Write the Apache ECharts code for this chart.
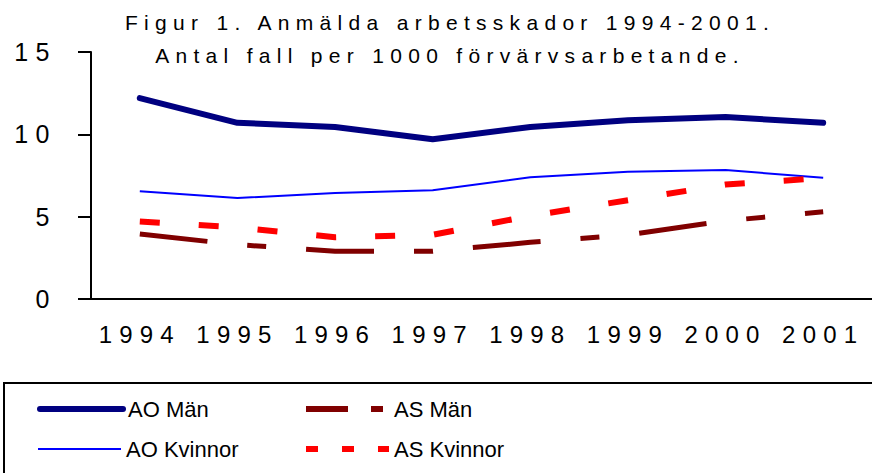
<!DOCTYPE html>
<html>
<head>
<meta charset="utf-8">
<script src="https://cdn.jsdelivr.net/npm/echarts@6/dist/echarts.min.js"></script>
<style>
  html, body { margin: 0; padding: 0; background: #fff; }
  #main { width: 872px; height: 473px; }
  /* the original uses very wide letter spacing */
  #main text { letter-spacing: 0.3em; }
  #main text[style*="lgd"], #main text[font-family*="lgd"] { letter-spacing: 0; }
</style>
</head>
<body>
<div id="main"></div>
<script>
  var years = ['1994', '1995', '1996', '1997', '1998', '1999', '2000', '2001'];
  var aoMan = [12.2, 10.7, 10.45, 9.7, 10.45, 10.85, 11.05, 10.7];
  var aoKvinnor = [6.55, 6.13, 6.43, 6.6, 7.39, 7.73, 7.83, 7.37];
  var asMan = [3.95, 3.3, 2.9, 2.9, 3.44, 3.9, 4.75, 5.3];
  var asKvinnor = [4.7, 4.35, 3.75, 3.9, 5.05, 6.0, 6.95, 7.35];
  var yTicks = [0, 5, 10, 15];

  var font = 'Liberation Sans, Arial, sans-serif';
  var lgdFont = 'Liberation Sans, lgd';

  // one legend per item so the two columns line up
  function legendItem(name, left, top, lineStyle) {
    return {
      left: left, top: top, padding: 0, itemWidth: 83, itemHeight: 14,
      data: [{ name: name, lineStyle: lineStyle }],
      itemStyle: { opacity: 0 },
      textStyle: { fontFamily: lgdFont, fontSize: 22, color: '#000', padding: [2, 0, 0, 0] }
    };
  }

  var chart = echarts.init(document.getElementById('main'), null, { renderer: 'svg' });
  var option = {
    animation: false,
    backgroundColor: '#fff',
    title: {
      text: 'Figur 1. Anmälda arbetsskador 1994-2001.\nAntal fall per 1000 förvärvsarbetande.',
      left: 445,
      top: 1,
      textAlign: 'center',
      textStyle: { fontFamily: font, fontSize: 21, fontWeight: 'normal', color: '#000', lineHeight: 33 }
    },
    grid: { left: 91, right: -4, top: 52, bottom: 174 },
    xAxis: {
      type: 'category',
      data: years,
      boundaryGap: true,
      axisLine: { lineStyle: { color: '#000', width: 2 } },
      axisTick: { length: 8, lineStyle: { color: '#000', width: 2 } },
      axisLabel: { margin: 23, fontFamily: font, fontSize: 24, color: '#000' },
      splitLine: { show: false }
    },
    yAxis: {
      type: 'value',
      min: yTicks[0],
      max: yTicks[yTicks.length - 1],
      interval: 5,
      axisLine: { show: true, lineStyle: { color: '#000', width: 2 } },
      axisTick: { show: true, length: 13, lineStyle: { color: '#000', width: 2 } },
      axisLabel: { margin: 34, fontFamily: font, fontSize: 25, color: '#000' },
      splitLine: { show: false }
    },
    legend: [
      legendItem('AO Män', 37, 398, { width: 6, cap: 'round' }),
      legendItem('AS Män', 303, 398, { width: 6, type: [42, 23, 12, 23] }),
      legendItem('AO Kvinnor', 37, 438, { width: 2 }),
      legendItem('AS Kvinnor', 303, 438, { width: 6, type: [12, 24] })
    ],
    graphic: [{
      type: 'rect',
      shape: { x: 4, y: 383, width: 880, height: 100 },
      style: { fill: 'none', stroke: '#000', lineWidth: 2 }
    }],
    series: [{
      name: 'AO Män', type: 'line', data: aoMan, symbol: 'none',
      color: '#000080',
      lineStyle: { color: '#000080', width: 6, cap: 'round', join: 'round' }
    }, {
      name: 'AS Män', type: 'line', data: asMan, symbol: 'none',
      color: '#800000',
      lineStyle: { color: '#800000', width: 5, type: [68, 40, 19, 40] }
    }, {
      name: 'AO Kvinnor', type: 'line', data: aoKvinnor, symbol: 'none',
      color: '#0000ff',
      lineStyle: { color: '#0000ff', width: 2 }
    }, {
      name: 'AS Kvinnor', type: 'line', data: asKvinnor, symbol: 'none',
      color: '#ff0000',
      lineStyle: { color: '#ff0000', width: 6, type: [20, 39] }
    }]
  };
  chart.setOption(option);
</script>
</body>
</html>
